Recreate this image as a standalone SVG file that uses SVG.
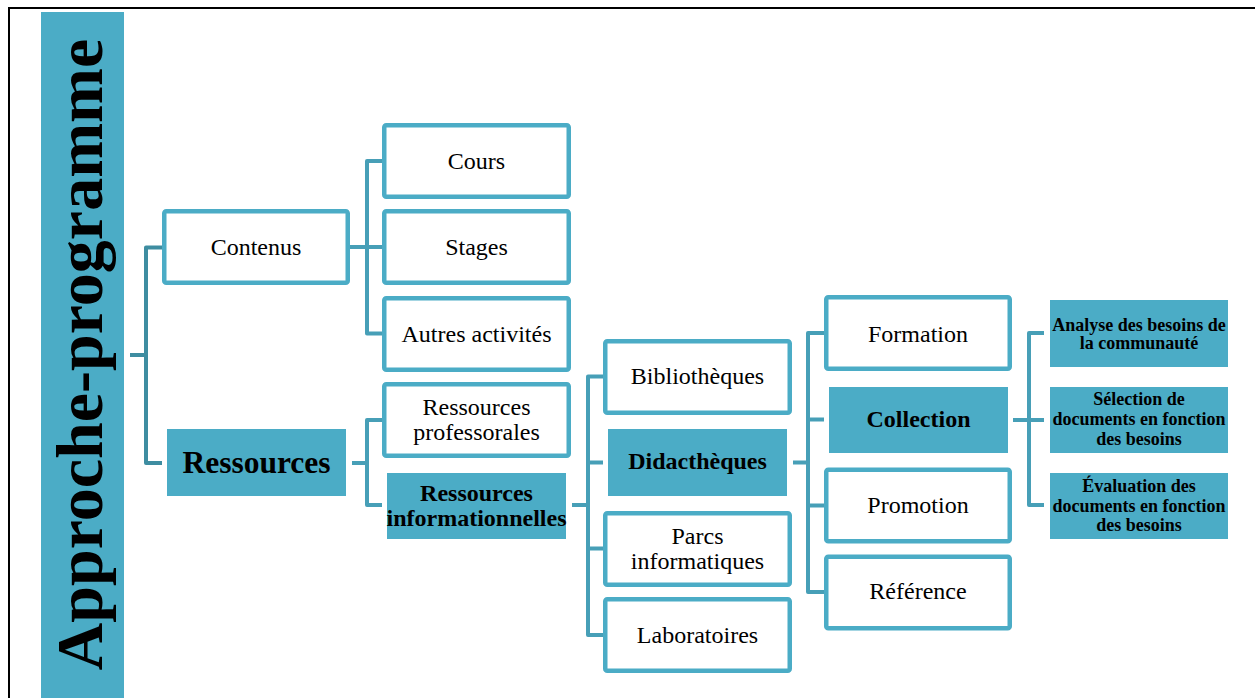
<svg xmlns="http://www.w3.org/2000/svg" width="1255" height="698" viewBox="0 0 1255 698">
<style>
.bx{fill:#ffffff;stroke:#4BACC6;stroke-width:4.5}
.fl{fill:#4BACC6}
.t{font-family:"Liberation Serif","Times New Roman",serif;font-size:24px;fill:#000;text-anchor:middle}
.b{font-weight:bold}
.big{font-size:31.5px}
.s{font-family:"Liberation Serif","Times New Roman",serif;font-size:18px;font-weight:bold;fill:#000;text-anchor:middle}
.c{fill:none;stroke:#479FB7;stroke-width:4;stroke-linejoin:round}
.c0{stroke:#3E8DA1}
</style>
<rect width="1255" height="698" fill="#ffffff"/>
<path d="M9,698 V8 H1255" fill="none" stroke="#000" stroke-width="2"/>
<g id="title">
<rect x="41" y="12" width="83" height="686" class="fl"/>
<text transform="translate(102,354.5) rotate(-90)" font-family="'Liberation Serif','Times New Roman',serif" font-size="66" font-weight="bold" text-anchor="middle" fill="#000">Approche-programme</text>
</g>
<g id="connectors">
<path class="c c0" d="M130,355 H146 M162,247.5 H146 V463 H162"/>
<path class="c" d="M350,247 H382 M382,161 H367 V333.5 H382"/>
<path class="c" d="M352,463 H367 M382,420 H367 V505 H382"/>
<path class="c" d="M572,505 H588 M603,376.5 H588 V635 H603 M588,462.5 H603 M588,548.5 H603"/>
<path class="c" d="M793,462.5 H808 M824,333 H808 V592 H824 M808,419.5 H824 M808,505.5 H824"/>
<path class="c" d="M1013,420 H1044 M1044,333 H1029 V505 H1044"/>
</g>
<g id="contenus"><rect class="bx" x="164.25" y="211.25" width="183.5" height="71.5" rx="2"/><text class="t" x="256" y="255">Contenus</text></g>
<g id="ressources"><rect class="fl" x="167" y="429" width="179" height="67"/><text class="t b big" x="256.5" y="473">Ressources</text></g>
<g id="cours"><rect class="bx" x="384.25" y="125.25" width="184.5" height="71.5" rx="2"/><text class="t" x="476.5" y="169">Cours</text></g>
<g id="stages"><rect class="bx" x="384.25" y="211.25" width="184.5" height="71.5" rx="2"/><text class="t" x="476.5" y="255">Stages</text></g>
<g id="autres"><rect class="bx" x="384.25" y="298.25" width="184.5" height="71.5" rx="2"/><text class="t" x="476.5" y="341.5">Autres activités</text></g>
<g id="ressources-prof"><rect class="bx" x="384.25" y="384.25" width="184.5" height="71.5" rx="2"/><text class="t" x="476.5" y="415">Ressources</text><text class="t" x="476.5" y="440">professorales</text></g>
<g id="ressources-info"><rect class="fl" x="387" y="473" width="179" height="66"/><text class="t b" x="476.5" y="501">Ressources</text><text class="t b" x="476.5" y="525.5">informationnelles</text></g>
<g id="bibliotheques"><rect class="bx" x="605.25" y="341.25" width="184.5" height="71.5" rx="2"/><text class="t" x="697.5" y="383.5">Bibliothèques</text></g>
<g id="didactheques"><rect class="fl" x="608" y="429" width="179" height="67"/><text class="t b" x="697.5" y="469">Didacthèques</text></g>
<g id="parcs"><rect class="bx" x="605.25" y="513.25" width="184.5" height="71.5" rx="2"/><text class="t" x="697.5" y="543.5">Parcs</text><text class="t" x="697.5" y="568.5">informatiques</text></g>
<g id="laboratoires"><rect class="bx" x="605.25" y="599.25" width="184.5" height="71.5" rx="2"/><text class="t" x="697.5" y="642.5">Laboratoires</text></g>
<g id="formation"><rect class="bx" x="826.25" y="297.25" width="183.5" height="71.5" rx="2"/><text class="t" x="918" y="341.5">Formation</text></g>
<g id="collection"><rect class="fl" x="829" y="387" width="179" height="66"/><text class="t b" x="918.5" y="427">Collection</text></g>
<g id="promotion"><rect class="bx" x="826.25" y="469.75" width="183.5" height="71.5" rx="2"/><text class="t" x="918" y="513">Promotion</text></g>
<g id="reference"><rect class="bx" x="826.25" y="556.75" width="183.5" height="71.5" rx="2"/><text class="t" x="918" y="598.5">Référence</text></g>
<g id="analyse"><rect class="fl" x="1050" y="300" width="178" height="67"/><text class="s" x="1139" y="331">Analyse des besoins de</text><text class="s" x="1139" y="348.5">la communauté</text></g>
<g id="selection"><rect class="fl" x="1050" y="387" width="178" height="66"/><text class="s" x="1139" y="405">Sélection de</text><text class="s" x="1139" y="425">documents en fonction</text><text class="s" x="1139" y="444.5">des besoins</text></g>
<g id="evaluation"><rect class="fl" x="1050" y="473" width="178" height="66"/><text class="s" x="1139" y="491.5">Évaluation des</text><text class="s" x="1139" y="511.5">documents en fonction</text><text class="s" x="1139" y="531">des besoins</text></g>
</svg>
